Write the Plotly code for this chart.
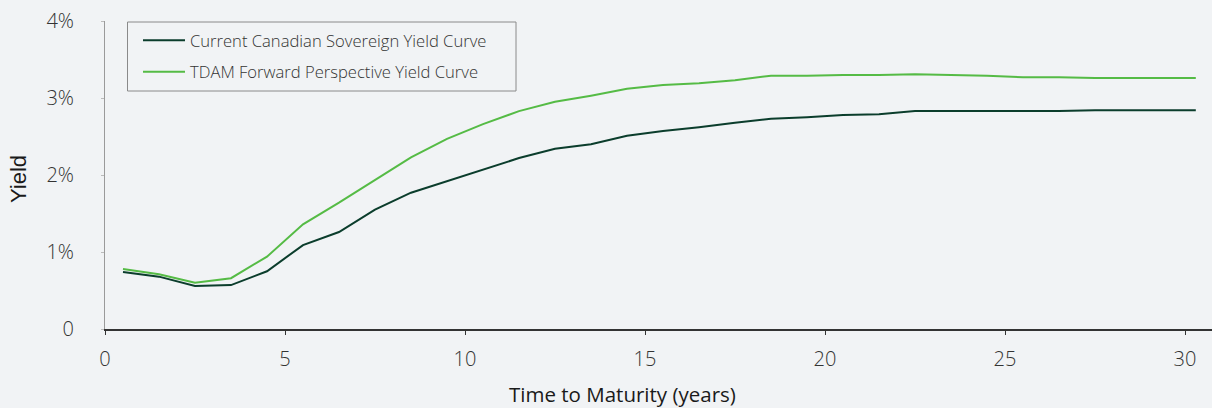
import plotly.graph_objects as go

# Data (yields in percent)
maturity = [0.5, 1.5, 2.5, 3.5, 4.5, 5.5, 6.5, 7.5, 8.5, 9.5, 10.5, 11.5, 12.5, 13.5, 14.5,
            15.5, 16.5, 17.5, 18.5, 19.5, 20.5, 21.5, 22.5, 23.5, 24.5, 25.5, 26.5, 27.5,
            28.5, 29.5, 30.3]
current_curve = [0.74, 0.68, 0.56, 0.57, 0.75, 1.09, 1.26, 1.55, 1.77, 1.92, 2.06, 2.22, 2.34,
                 2.40, 2.51, 2.57, 2.62, 2.68, 2.73, 2.75, 2.78, 2.79, 2.83, 2.83, 2.83, 2.83,
                 2.83, 2.84, 2.84, 2.84, 2.84]
tdam_curve = [0.78, 0.71, 0.60, 0.66, 0.94, 1.36, 1.64, 1.94, 2.23, 2.47, 2.66, 2.83, 2.95,
              3.03, 3.12, 3.17, 3.19, 3.23, 3.29, 3.29, 3.30, 3.30, 3.31, 3.30, 3.29, 3.27,
              3.27, 3.26, 3.26, 3.26, 3.26]
series_names = ["Current Canadian Sovereign Yield Curve", "TDAM Forward Perspective Yield Curve"]
y_tickvals = [0, 1, 2, 3, 4]
y_ticktext = ["0", "1%", "2%", "3%", "4%"]
x_tickvals = [0, 5, 10, 15, 20, 25, 30]
x_title = "Time to Maturity (years)"
y_title = "Yield"

BG = "#f1f3f5"
FONT = "Open Sans"
W, H = 1212, 408
ML, MT, MB = 105, 21, 79
PW, PH = W - ML, H - MT - MB


def px_x(p):
    return (p - ML) / PW


def px_y(p):
    return (H - MB - p) / PH


fig = go.Figure()
fig.add_trace(go.Scatter(x=maturity, y=current_curve, mode="lines", name=series_names[0],
                         legendgroup="a", line=dict(color="#0b3d2c", width=2)))
fig.add_trace(go.Scatter(x=maturity, y=tdam_curve, mode="lines", name=series_names[1],
                         legendgroup="b", line=dict(color="#55bb45", width=2)))

fig.update_layout(
    width=W, height=H,
    margin=dict(l=ML, r=0, t=MT, b=MB),
    paper_bgcolor=BG, plot_bgcolor=BG,
    font=dict(family=FONT, color="#333333", size=18),
    showlegend=True,
    legend=dict(
        x=px_x(138), y=px_y(23), xanchor="left", yanchor="top",
        bgcolor="rgba(0,0,0,0)", borderwidth=0,
        font=dict(family=FONT, size=16.6, color="#333333", weight=300),
        tracegroupgap=7, itemwidth=42,
    ),
    xaxis=dict(
        range=[0, 30.75], tickvals=x_tickvals, showgrid=False, zeroline=False,
        showline=True, linecolor="#333333", linewidth=2,
        ticks="outside", ticklen=4, tickcolor="#333333", tickwidth=1,
        ticklabelstandoff=7,
        tickfont=dict(family=FONT, size=20, color="#333333", weight=300),
    ),
    yaxis=dict(
        range=[0, 4], tickvals=y_tickvals, ticktext=y_ticktext, showgrid=False, zeroline=False,
        showline=True, linecolor="#9a9a9a", linewidth=1,
        ticks="outside", ticklen=3, tickcolor="#bbbbbb", tickwidth=1,
        ticklabelstandoff=23,
        tickfont=dict(family=FONT, size=20, color="#333333", weight=300),
    ),
    shapes=[
        dict(type="rect", xref="paper", yref="paper",
             x0=px_x(127.5), x1=px_x(516), y0=px_y(91), y1=px_y(22),
             line=dict(color="#8a8a8a", width=1), fillcolor="rgba(0,0,0,0)", layer="above"),
    ],
    annotations=[
        dict(text=x_title, xref="paper", yref="paper", x=px_x(622.5), y=px_y(394.5),
             xanchor="center", yanchor="middle", showarrow=False,
             font=dict(family=FONT, size=20.5, color="#1a1a1a")),
        dict(text=y_title, xref="paper", yref="paper", x=px_x(18), y=px_y(179),
             xanchor="center", yanchor="middle", showarrow=False, textangle=-90,
             font=dict(family="Liberation Sans", size=22, color="#1a1a1a")),
    ],
)

fig.write_html("out.html")
